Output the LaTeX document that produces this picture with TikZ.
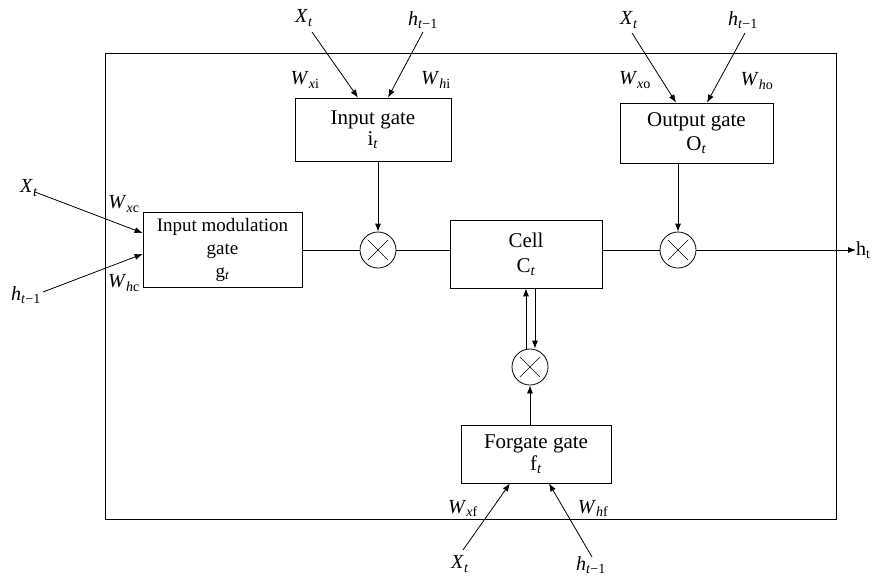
\documentclass[tikz,border=0pt]{standalone}
\usepackage{fontspec}
\setmainfont{Liberation Serif}
\usetikzlibrary{arrows.meta,calc}
\newcommand{\Xt}{\textit{X}\textsubscript{\textit{t}}}
\newcommand{\Hprev}{\textit{h}\textsubscript{\textit{t}−1}}
\newcommand{\Wlab}[2]{\textit{W}\textsubscript{\textit{#1}#2}}
\begin{document}
\begin{tikzpicture}[x=1pt,y=-1pt,
  txt/.style={font=\fontsize{20}{22}\selectfont, inner sep=1pt},
  gatebox/.style={draw, line width=0.8pt, align=center, inner sep=0pt},
  mult/.style={draw, circle, line width=0.8pt, minimum size=36pt, inner sep=0pt,
    path picture={
      \draw[line width=0.6pt] ($(path picture bounding box.center)+(-10pt,-10pt)$) -- ($(path picture bounding box.center)+(10pt,10pt)$);
      \draw[line width=0.6pt] ($(path picture bounding box.center)+(-10pt,10pt)$) -- ($(path picture bounding box.center)+(10pt,-10pt)$);
    }},
  conn/.style={line width=0.8pt},
  arr/.style={conn, -{Latex[length=8pt,width=6pt]}}]
\useasboundingbox (0,0) rectangle (873,582);

% outer frame
\draw[conn] (105,53) rectangle (836,519);

% gates
\node[gatebox, minimum width=159pt, minimum height=75pt, font=\fontsize{19}{23}\selectfont] (mg) at (222.5,249.5) {Input modulation\\gate\\g\textsubscript{\textit{t}}};
\node[gatebox, minimum width=156pt, minimum height=63pt, font=\fontsize{21}{21}\selectfont] (ig) at (373,129.5) {Input gate\\i\textsubscript{\textit{t}}};
\node[gatebox, minimum width=153pt, minimum height=60pt, font=\fontsize{21}{24}\selectfont] (og) at (696.5,133) {Output gate\\O\textsubscript{\textit{t}}};
\node[gatebox, minimum width=152pt, minimum height=68pt, font=\fontsize{21}{25}\selectfont] (cell) at (526,254) {Cell\\C\textsubscript{\textit{t}}};
\node[gatebox, minimum width=150pt, minimum height=58pt, font=\fontsize{21}{22}\selectfont] (fg) at (536,454) {Forgate gate\\f\textsubscript{\textit{t}}};

% multipliers
\node[mult] (m1) at (378,250) {};
\node[mult] (m2) at (678,250) {};
\node[mult] (m3) at (530,367) {};

% output label
\node[txt, anchor=west, inner sep=0pt] (ht) at (856,250) {h\textsubscript{t}};

% inputs: input gate
\node[txt] (ixt) at (304,18) {\Xt};
\node[txt] (iht) at (423,20) {\Hprev};
\node[txt] (iwx) at (305,80) {\Wlab{x}{i}};
\node[txt] (iwh) at (436,80) {\Wlab{h}{i}};
\coordinate (ixs) at (312,32);
\coordinate (ihs) at (423,32);
\draw[arr] (ixs) -- ([xshift=-15pt]ig.north);
\draw[arr] (ihs) -- ([xshift=15pt]ig.north);

% inputs: output gate
\node[txt] (oxt) at (629,20) {\Xt};
\node[txt] (oht) at (743,20) {\Hprev};
\node[txt] (owx) at (635,80) {\Wlab{x}{o}};
\node[txt] (owh) at (757,81) {\Wlab{h}{o}};
\coordinate (oxs) at (632,33);
\coordinate (ohs) at (745,33);
\draw[arr] (oxs) -- ([xshift=-20.5pt]og.north);
\draw[arr] (ohs) -- ([xshift=10.5pt]og.north);

% inputs: modulation gate
\node[txt] (mxt) at (29,188) {\Xt};
\node[txt] (mht) at (26,295) {\Hprev};
\node[txt] (mwx) at (124,204) {\Wlab{x}{c}};
\node[txt] (mwh) at (124,283) {\Wlab{h}{c}};
\coordinate (mxs) at (35,192);
\coordinate (mhs) at (43,292);
\draw[arr] (mxs) -- ([yshift=16.5pt]mg.west);
\draw[arr] (mhs) -- ([yshift=-4.5pt]mg.west);

% inputs: forget gate
\node[txt] (fxt) at (460,564) {\Xt};
\node[txt] (fht) at (591,565) {\Hprev};
\node[txt] (fwx) at (463,508) {\Wlab{x}{f}};
\node[txt] (fwh) at (593,508) {\Wlab{h}{f}};
\coordinate (fxs) at (463,550);
\coordinate (fhs) at (592,557);
\draw[arr] (fxs) -- ([xshift=-26pt]fg.south);
\draw[arr] (fhs) -- ([xshift=13pt]fg.south);

% internal connections
\draw[conn] (mg.east |- m1.west) -- (m1.west);
\draw[conn] (m1.east) -- (m1.east -| cell.west);
\draw[conn] (m2.west -| cell.east) -- (m2.west);
\draw[arr] (m2.east) -- (m2.east -| ht.west);
\draw[arr] (m1 |- ig.south) -- (m1.north);
\draw[arr] (m2 |- og.south) -- (m2.north);
\draw[arr] (m3 |- fg.north) -- (m3.south);
\draw[arr] (cell.south |- m3.north) -- (cell.south);
\draw[arr] ([xshift=9pt]cell.south) -- ([xshift=9pt]cell.south |- m3.north);
\end{tikzpicture}
\end{document}
